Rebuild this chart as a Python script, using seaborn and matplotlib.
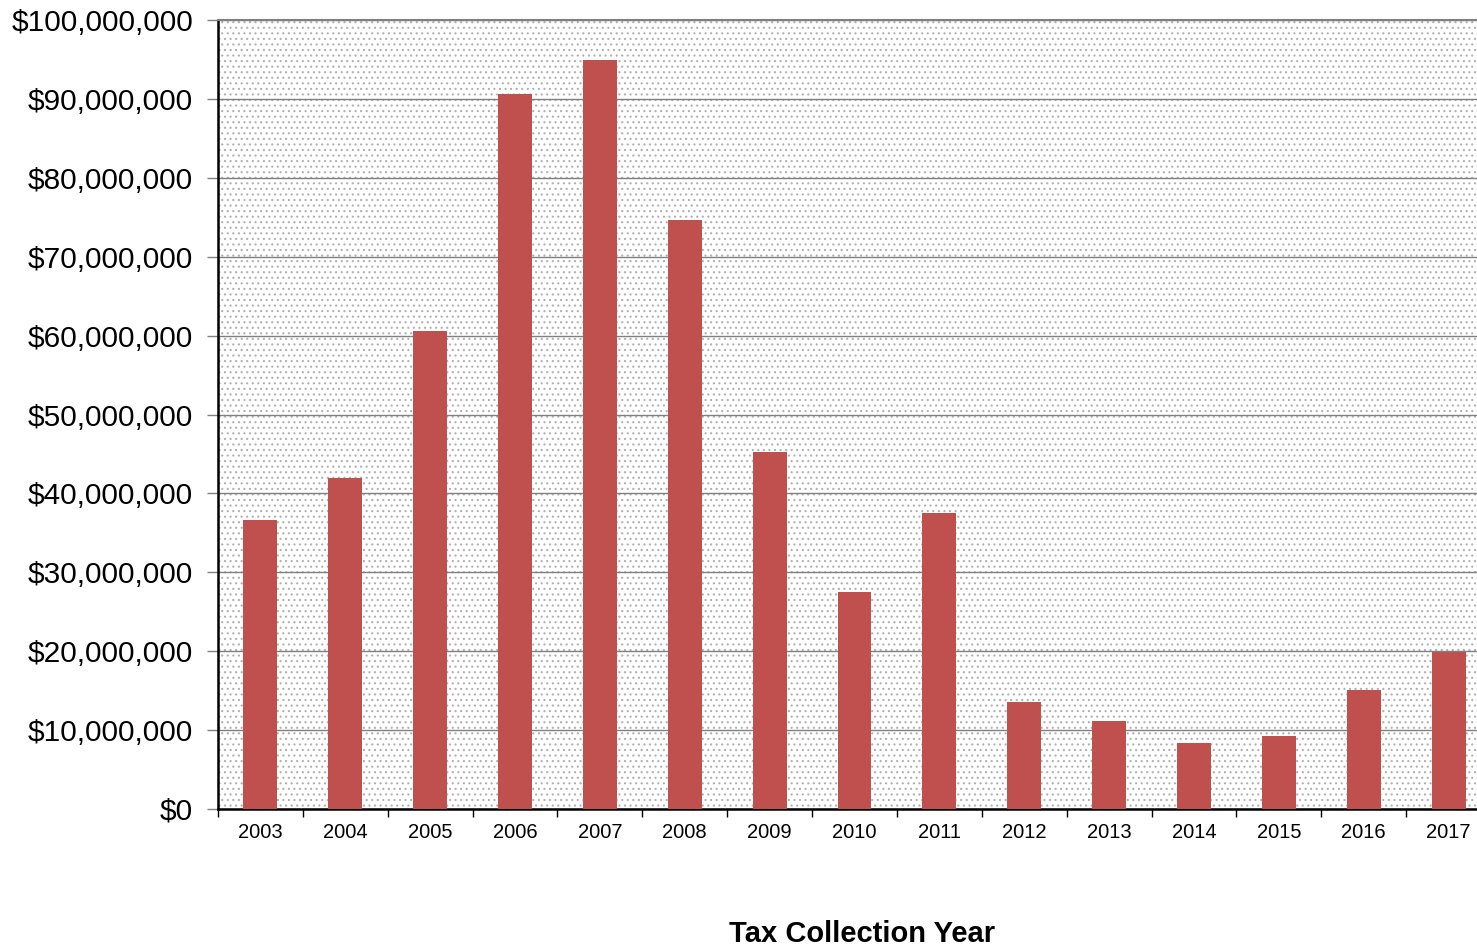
import matplotlib
matplotlib.use("Agg")
import matplotlib.pyplot as plt
import seaborn as sns
import pandas as pd
import numpy as np
from matplotlib.ticker import FuncFormatter, FixedLocator
from matplotlib.patches import Rectangle

years = ["2003", "2004", "2005", "2006", "2007", "2008", "2009", "2010",
         "2011", "2012", "2013", "2014", "2015", "2016", "2017"]
values = [36.6e6, 41.95e6, 60.6e6, 90.6e6, 94.9e6, 74.6e6, 45.2e6, 27.5e6,
          37.5e6, 13.6e6, 11.1e6, 8.4e6, 9.25e6, 15.1e6, 19.9e6]
x_label = "Tax Collection Year"

df = pd.DataFrame({"year": years, "value": values})

sns.set_theme(style="white")
plt.rcParams['font.family'] = ['Liberation Sans', 'DejaVu Sans']
plt.rcParams['text.color'] = 'black'
plt.rcParams['axes.labelcolor'] = 'black'
plt.rcParams['xtick.color'] = 'black'
plt.rcParams['ytick.color'] = 'black'
plt.rcParams['hatch.linewidth'] = 0.8

W, H = 1477, 949
left, right, top, bottom = 218, 1491, 20, 809
fig = plt.figure(figsize=(W/100, H/100), dpi=100)
ax = fig.add_axes([left/W, 1 - bottom/H, (right-left)/W, (bottom-top)/H])

# dotted background
bg = Rectangle((0, 0), 1, 1, transform=ax.transAxes, facecolor='white',
               edgecolor='#b0b0b0', linewidth=0, hatch='...', zorder=0)
ax.add_patch(bg)
ax.set_facecolor('white')

sns.barplot(data=df, x="year", y="value", color="#C0504D", width=0.4,
            saturation=1, ax=ax, zorder=3, edgecolor="#C0504D", linewidth=0)

ax.set_ylim(0, 100e6)
ax.set_xlim(-0.5, len(years) - 0.5)
ax.yaxis.set_major_locator(FixedLocator(np.arange(0, 100e6 + 1, 10e6)))
ax.yaxis.set_major_formatter(FuncFormatter(lambda v, p: f"${v:,.0f}"))
ax.yaxis.grid(True, color='#808080', linewidth=1.0, zorder=1)
ax.set_axisbelow(True)

ax.tick_params(axis='y', labelsize=21.5, labelcolor='black', length=8, width=1,
               color='#808080', pad=10, left=True)
ax.tick_params(axis='x', which='major', labelsize=14.5, labelcolor='black',
               length=0, pad=10)
ax.set_xticks(np.arange(-0.5, len(years), 1.0), minor=True)
ax.tick_params(axis='x', which='minor', length=6, width=1, color='#000000',
               bottom=True)

ax.spines['right'].set_visible(False)
ax.spines['top'].set_color('#808080')
ax.spines['top'].set_linewidth(1.5)
ax.spines['left'].set_color('#000000')
ax.spines['left'].set_linewidth(1.8)
ax.spines['bottom'].set_color('#000000')
ax.spines['bottom'].set_linewidth(1.8)

ax.set_ylabel("")
ax.set_xlabel(x_label, fontsize=21, fontweight='bold', color='black')
ax.xaxis.set_label_coords(862/W, 1 - 920/H, transform=fig.transFigure)

fig.savefig("out.png", dpi=100)
